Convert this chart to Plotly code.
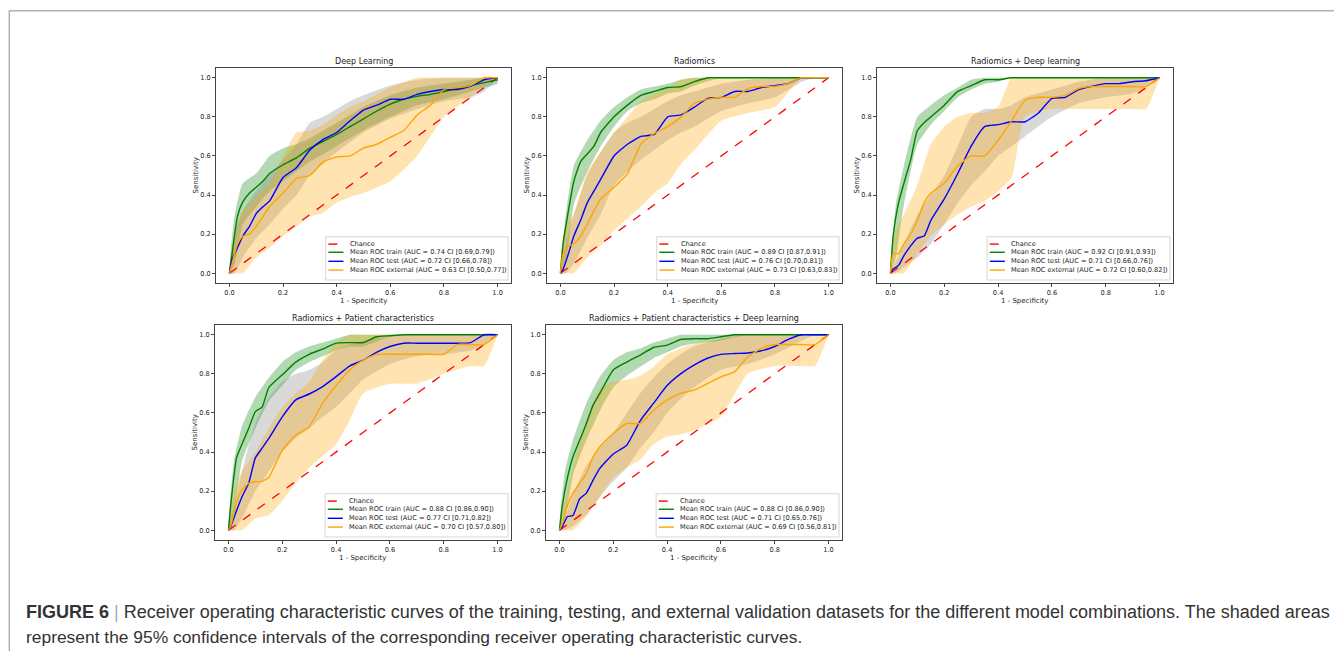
import plotly.graph_objects as go

# ---------------- data ----------------
MEAN_FPR = [0, 0.01, 0.03, 0.05, 0.075, 0.1, 0.125, 0.15, 0.2, 0.25, 0.3, 0.35, 0.4,
            0.45, 0.5, 0.55, 0.6, 0.65, 0.7, 0.75, 0.8, 0.85, 0.9, 0.95, 1.0]
BAND_FPR = [0, 0.02, 0.05, 0.1, 0.15, 0.2, 0.25, 0.3, 0.35, 0.4, 0.45, 0.5, 0.6, 0.7,
            0.8, 0.9, 0.95, 1.0]
CHANCE = [0.0, 1.0]

# Deep Learning
dl_train = [0, 0.1, 0.29, 0.365, 0.41, 0.44, 0.47, 0.51, 0.555, 0.59, 0.64, 0.675, 0.71,
            0.75, 0.79, 0.83, 0.865, 0.89, 0.905, 0.915, 0.93, 0.945, 0.96, 0.975, 0.99]
dl_train_hi = [0, 0.3, 0.46, 0.51, 0.6, 0.64, 0.66, 0.69, 0.73, 0.77, 0.81, 0.85, 0.91, 0.95,
               0.97, 0.99, 1.0, 1.0]
dl_train_lo = [0, 0.05, 0.25, 0.34, 0.42, 0.47, 0.52, 0.57, 0.61, 0.65, 0.69, 0.73, 0.8, 0.86,
               0.89, 0.93, 0.95, 0.97]
dl_test = [0, 0.07, 0.13, 0.19, 0.24, 0.305, 0.34, 0.37, 0.49, 0.54, 0.63, 0.685, 0.72,
           0.78, 0.835, 0.86, 0.89, 0.89, 0.915, 0.93, 0.94, 0.94, 0.957, 0.99, 1.0]
dl_test_hi = [0, 0.2, 0.32, 0.42, 0.5, 0.58, 0.66, 0.77, 0.8, 0.84, 0.88, 0.91, 0.96, 0.99,
              1.0, 1.0, 1.0, 1.0]
dl_test_lo = [0, 0.0, 0.08, 0.18, 0.25, 0.33, 0.4, 0.5, 0.56, 0.62, 0.67, 0.72, 0.79, 0.84,
              0.88, 0.9, 0.93, 1.0]
dl_ext = [0, 0.05, 0.15, 0.19, 0.2, 0.24, 0.29, 0.34, 0.41, 0.485, 0.5, 0.57, 0.595, 0.6,
          0.64, 0.66, 0.695, 0.73, 0.81, 0.86, 0.94, 0.95, 0.96, 1.0, 1.0]
dl_ext_hi = [0, 0.2, 0.32, 0.39, 0.46, 0.6, 0.72, 0.73, 0.76, 0.81, 0.85, 0.88, 0.95, 1.0,
             1.0, 1.0, 1.0, 1.0]
dl_ext_lo = [0, 0, 0, 0.08, 0.13, 0.19, 0.24, 0.29, 0.31, 0.36, 0.39, 0.41, 0.47, 0.6, 0.8,
             0.9, 0.96, 1.0]

# Radiomics
rad_train = [0, 0.15, 0.32, 0.47, 0.57, 0.61, 0.65, 0.72, 0.8, 0.86, 0.91, 0.93, 0.95, 0.955,
             0.98, 1, 1, 1, 1, 1, 1, 1, 1, 1, 1]
rad_train_hi = [0, 0.3, 0.55, 0.68, 0.78, 0.85, 0.9, 0.94, 0.955, 0.97, 0.99, 1, 1, 1, 1, 1, 1, 1]
rad_train_lo = [0, 0.05, 0.35, 0.52, 0.65, 0.75, 0.83, 0.87, 0.89, 0.92, 0.93, 0.96, 1, 1, 1,
                1, 1, 1]
rad_test = [0, 0.02, 0.1, 0.19, 0.27, 0.36, 0.42, 0.48, 0.6, 0.66, 0.7, 0.71, 0.8, 0.81,
            0.85, 0.895, 0.9, 0.93, 0.93, 0.95, 0.96, 0.97, 1, 1, 1]
rad_test_hi = [0, 0.15, 0.3, 0.5, 0.62, 0.72, 0.77, 0.8, 0.84, 0.88, 0.91, 0.93, 0.97, 0.99,
               1, 1, 1, 1]
rad_test_lo = [0, 0, 0.05, 0.18, 0.3, 0.45, 0.52, 0.58, 0.63, 0.68, 0.72, 0.75, 0.83, 0.87,
               0.9, 0.98, 1, 1]
rad_ext = [0, 0.1, 0.14, 0.15, 0.19, 0.25, 0.32, 0.38, 0.44, 0.51, 0.66, 0.715, 0.75, 0.8,
           0.87, 0.89, 0.9, 0.9, 0.945, 0.955, 0.955, 0.97, 1, 1, 1]
rad_ext_hi = [0, 0.25, 0.3, 0.52, 0.62, 0.72, 0.8, 0.88, 0.92, 0.95, 0.99, 1, 1, 1, 1, 1, 1, 1]
rad_ext_lo = [0, 0, 0, 0.08, 0.14, 0.22, 0.28, 0.34, 0.41, 0.46, 0.56, 0.63, 0.78, 0.82, 0.85,
              1.0, 1, 1]

# Radiomics + Deep learning
rdl_train = [0, 0.19, 0.36, 0.46, 0.58, 0.73, 0.77, 0.8, 0.86, 0.93, 0.96, 0.99, 0.99, 1, 1,
             1, 1, 1, 1, 1, 1, 1, 1, 1, 1]
rdl_train_hi = [0, 0.35, 0.55, 0.8, 0.86, 0.91, 0.95, 0.99, 1, 1, 1, 1, 1, 1, 1, 1, 1, 1]
rdl_train_lo = [0, 0.08, 0.35, 0.66, 0.76, 0.83, 0.9, 0.94, 0.97, 0.98, 1, 1, 1, 1, 1, 1, 1, 1]
rdl_test = [0, 0.02, 0.04, 0.09, 0.14, 0.18, 0.19, 0.27, 0.38, 0.51, 0.65, 0.75, 0.76, 0.775,
            0.775, 0.82, 0.895, 0.9, 0.94, 0.957, 0.97, 0.97, 0.98, 0.985, 1]
rdl_test_hi = [0, 0.06, 0.15, 0.3, 0.4, 0.5, 0.65, 0.8, 0.84, 0.84, 0.86, 0.9, 0.94, 0.98, 1,
               1, 1, 1]
rdl_test_lo = [0, 0, 0.03, 0.08, 0.15, 0.25, 0.36, 0.45, 0.52, 0.6, 0.65, 0.7, 0.8, 0.87,
               0.9, 0.92, 0.95, 1]
rdl_ext = [0, 0.1, 0.1, 0.15, 0.2, 0.27, 0.36, 0.41, 0.46, 0.55, 0.6, 0.6, 0.68, 0.78, 0.885,
           0.9, 0.9, 0.91, 0.945, 0.955, 0.955, 0.955, 0.955, 0.955, 1]
rdl_ext_hi = [0, 0.22, 0.3, 0.45, 0.66, 0.75, 0.8, 0.82, 0.82, 0.85, 1, 1, 1, 1, 1, 1, 1, 1]
rdl_ext_lo = [0, 0, 0, 0.1, 0.19, 0.25, 0.3, 0.34, 0.37, 0.42, 0.49, 0.8, 0.84, 0.84, 0.84,
              0.84, 0.84, 1]

# Radiomics + Patient characteristics
rpc_train = [0, 0.15, 0.37, 0.44, 0.52, 0.607, 0.63, 0.73, 0.795, 0.86, 0.9, 0.927, 0.957,
             0.96, 0.96, 0.99, 0.995, 1, 1, 1, 1, 1, 1, 1, 1]
rpc_train_hi = [0, 0.35, 0.53, 0.68, 0.78, 0.86, 0.91, 0.94, 0.96, 0.98, 1, 1, 1, 1, 1, 1, 1, 1]
rpc_train_lo = [0, 0.08, 0.35, 0.52, 0.66, 0.74, 0.82, 0.86, 0.89, 0.92, 0.94, 0.94, 0.99, 1,
                1, 1, 1, 1]
rpc_test = [0, 0.025, 0.1, 0.17, 0.24, 0.37, 0.42, 0.47, 0.58, 0.667, 0.697, 0.735, 0.786,
            0.84, 0.87, 0.91, 0.94, 0.957, 0.957, 0.957, 0.957, 0.957, 0.96, 1, 1]
rpc_test_hi = [0, 0.12, 0.3, 0.55, 0.68, 0.76, 0.8, 0.82, 0.86, 0.92, 0.95, 0.97, 0.99, 1, 1,
               1, 1, 1]
rpc_test_lo = [0, 0, 0.06, 0.2, 0.3, 0.4, 0.47, 0.52, 0.58, 0.63, 0.7, 0.77, 0.85, 0.89, 0.9,
               0.92, 0.95, 1]
rpc_ext = [0, 0.03, 0.14, 0.205, 0.24, 0.248, 0.25, 0.27, 0.41, 0.487, 0.53, 0.65, 0.74, 0.82,
           0.87, 0.9, 0.9, 0.9, 0.9, 0.9, 0.9, 0.95, 0.95, 0.95, 1]
rpc_ext_hi = [0, 0.2, 0.3, 0.4, 0.52, 0.63, 0.7, 0.76, 0.87, 0.96, 1, 1, 1, 1, 1, 1, 1, 1]
rpc_ext_lo = [0, 0, 0, 0.06, 0.077, 0.15, 0.24, 0.32, 0.38, 0.44, 0.56, 0.7, 0.75, 0.75, 0.8,
              0.84, 0.84, 1]

# Radiomics + Patient characteristics + Deep learning
rpd_train = [0, 0.12, 0.27, 0.375, 0.46, 0.546, 0.64, 0.7, 0.82, 0.86, 0.896, 0.935, 0.947,
             0.976, 0.98, 0.98, 0.99, 1, 1, 1, 1, 1, 1, 1, 1]
rpd_train_hi = [0, 0.3, 0.46, 0.65, 0.785, 0.87, 0.91, 0.93, 0.96, 0.98, 1, 1, 1, 1, 1, 1, 1, 1]
rpd_train_lo = [0, 0.05, 0.28, 0.46, 0.61, 0.73, 0.79, 0.836, 0.88, 0.91, 0.94, 0.955, 0.97,
                1, 1, 1, 1, 1]
rpd_test = [0, 0.017, 0.07, 0.075, 0.16, 0.19, 0.256, 0.316, 0.39, 0.435, 0.56, 0.65, 0.74,
            0.8, 0.845, 0.88, 0.9, 0.904, 0.907, 0.918, 0.94, 0.976, 1, 1, 1]
rpd_test_hi = [0, 0.06, 0.18, 0.33, 0.42, 0.5, 0.6, 0.7, 0.78, 0.85, 0.9, 0.94, 0.98, 1, 1, 1,
               1, 1]
rpd_test_lo = [0, 0, 0.02, 0.08, 0.17, 0.25, 0.32, 0.42, 0.5, 0.6, 0.67, 0.73, 0.82, 0.85,
               0.9, 0.97, 1, 1]
rpd_ext = [0, 0.034, 0.128, 0.19, 0.24, 0.29, 0.375, 0.427, 0.495, 0.546, 0.546, 0.614, 0.666,
           0.7, 0.717, 0.75, 0.785, 0.81, 0.887, 0.93, 0.95, 0.95, 0.95, 0.95, 1]
rpd_ext_hi = [0, 0.15, 0.32, 0.56, 0.725, 0.76, 0.768, 0.79, 0.836, 0.9, 0.93, 0.955, 0.98, 1,
              1, 1, 1, 1]
rpd_ext_lo = [0, 0, 0, 0.07, 0.17, 0.27, 0.32, 0.36, 0.44, 0.48, 0.49, 0.51, 0.58, 0.8, 0.84,
              0.84, 0.84, 1]

TITLES = ["Deep Learning", "Radiomics", "Radiomics + Deep learning",
          "Radiomics + Patient characteristics",
          "Radiomics + Patient characteristics + Deep learning"]
TRAIN_LABELS = ["Mean ROC train (AUC = 0.74 CI [0.69,0.79])",
                "Mean ROC train (AUC = 0.89 CI [0.87,0.91])",
                "Mean ROC train (AUC = 0.92 CI [0.91,0.93])",
                "Mean ROC train (AUC = 0.88 CI [0.86,0.90])",
                "Mean ROC train (AUC = 0.88 CI [0.86,0.90])"]
TEST_LABELS = ["Mean ROC test (AUC = 0.72 CI [0.66,0.78])",
               "Mean ROC test (AUC = 0.76 CI [0.70,0.81])",
               "Mean ROC test (AUC = 0.71 CI [0.66,0.76])",
               "Mean ROC test (AUC = 0.77 CI [0.71,0.82])",
               "Mean ROC test (AUC = 0.71 CI [0.65,0.76])"]
EXT_LABELS = ["Mean ROC external (AUC = 0.63 CI [0.50,0.77])",
              "Mean ROC external (AUC = 0.73 CI [0.63,0.83])",
              "Mean ROC external (AUC = 0.72 CI [0.60,0.82])",
              "Mean ROC external (AUC = 0.70 CI [0.57,0.80])",
              "Mean ROC external (AUC = 0.69 CI [0.56,0.81])"]
TICK_VALUES = [0.0, 0.2, 0.4, 0.6, 0.8, 1.0]
TICK_TEXT = ["0.0", "0.2", "0.4", "0.6", "0.8", "1.0"]

CAPTION_1 = ("<b>FIGURE 6</b> <span style='color:#aaa'>|</span> Receiver operating characteristic "
             "curves of the training, testing, and external validation datasets for the different "
             "model combinations. The shaded areas")
CAPTION_2 = ("represent the 95% confidence intervals of the corresponding receiver operating "
             "characteristic curves.")

# ---------------- styling ----------------
W, H = 1342, 651
OFF = 8  # page body margin of the html page
GREEN, BLUE, ORANGE, RED = "#008000", "#0000ff", "#ffa500", "#ff0000"
FILLS = {"train": "rgba(0,128,0,0.3)", "test": "rgba(128,128,128,0.3)",
         "ext": "rgba(255,165,0,0.3)"}
MPL_FONT = "DejaVu Sans"
TXT = "#222222"

PX_X = [(216, 511), (547, 842), (877, 1173), (215, 511), (546, 842)]
PX_Y = [(68, 283), (68, 283), (68, 283), (325, 540), (325, 540)]


def fx(px):
    return (px - OFF) / W


def fy(py):
    return 1 - (py - OFF) / H


panels = [
    dict(train=dl_train, train_hi=dl_train_hi, train_lo=dl_train_lo,
         test=dl_test, test_hi=dl_test_hi, test_lo=dl_test_lo,
         ext=dl_ext, ext_hi=dl_ext_hi, ext_lo=dl_ext_lo),
    dict(train=rad_train, train_hi=rad_train_hi, train_lo=rad_train_lo,
         test=rad_test, test_hi=rad_test_hi, test_lo=rad_test_lo,
         ext=rad_ext, ext_hi=rad_ext_hi, ext_lo=rad_ext_lo),
    dict(train=rdl_train, train_hi=rdl_train_hi, train_lo=rdl_train_lo,
         test=rdl_test, test_hi=rdl_test_hi, test_lo=rdl_test_lo,
         ext=rdl_ext, ext_hi=rdl_ext_hi, ext_lo=rdl_ext_lo),
    dict(train=rpc_train, train_hi=rpc_train_hi, train_lo=rpc_train_lo,
         test=rpc_test, test_hi=rpc_test_hi, test_lo=rpc_test_lo,
         ext=rpc_ext, ext_hi=rpc_ext_hi, ext_lo=rpc_ext_lo),
    dict(train=rpd_train, train_hi=rpd_train_hi, train_lo=rpd_train_lo,
         test=rpd_test, test_hi=rpd_test_hi, test_lo=rpd_test_lo,
         ext=rpd_ext, ext_hi=rpd_ext_hi, ext_lo=rpd_ext_lo),
]

fig = go.Figure()
layout = {}
shapes = []
annotations = []

for i, p in enumerate(panels):
    n = i + 1
    sx = "" if n == 1 else str(n)
    xa, ya = "x" + sx, "y" + sx
    # bands
    for key in ["train", "test", "ext"]:
        xs = BAND_FPR + BAND_FPR[::-1]
        ys = p[key + "_hi"] + p[key + "_lo"][::-1]
        fig.add_trace(go.Scatter(x=xs, y=ys, fill="toself", fillcolor=FILLS[key],
                                 line=dict(width=0, shape="spline", smoothing=0.5),
                                 mode="lines", hoverinfo="skip", showlegend=False,
                                 xaxis=xa, yaxis=ya))
    # chance
    fig.add_trace(go.Scatter(x=CHANCE, y=CHANCE, mode="lines",
                             line=dict(color=RED, width=1.3, dash="dash"),
                             showlegend=False, xaxis=xa, yaxis=ya))
    for key, col in [("train", GREEN), ("test", BLUE), ("ext", ORANGE)]:
        fig.add_trace(go.Scatter(x=MEAN_FPR, y=p[key], mode="lines",
                                 line=dict(color=col, width=1.4, shape="spline",
                                           smoothing=0.5),
                                 showlegend=False, xaxis=xa, yaxis=ya))

    x0, x1 = PX_X[i]
    y0, y1 = PX_Y[i]
    axis_common = dict(range=[-0.05, 1.05], showgrid=False, zeroline=False,
                       showline=True, mirror=True, linecolor="#444", linewidth=0.9,
                       ticks="outside", ticklen=3, tickwidth=0.8, tickcolor="#444",
                       tickvals=TICK_VALUES, ticktext=TICK_TEXT,
                       tickfont=dict(family=MPL_FONT, size=6.6, color=TXT))
    layout["xaxis" + sx] = dict(domain=[fx(x0), fx(x1)], anchor=ya, **axis_common)
    layout["yaxis" + sx] = dict(domain=[fy(y1), fy(y0)], anchor=xa, **axis_common)

    xd, yd = xa + " domain", ya + " domain"
    # title and axis labels
    annotations.append(dict(text=TITLES[i], x=0.5, y=1, xref=xd, yref=yd, showarrow=False,
                            xanchor="center", yanchor="bottom", yshift=0,
                            font=dict(family=MPL_FONT, size=8, color=TXT)))
    annotations.append(dict(text="1 - Specificity", x=0.5, y=0, xref=xd, yref=yd,
                            showarrow=False, xanchor="center", yanchor="middle", yshift=-17.5,
                            font=dict(family=MPL_FONT, size=7, color=TXT)))
    annotations.append(dict(text="Sensitivity", x=0, y=0.5, xref=xd, yref=yd,
                            showarrow=False, xanchor="center", yanchor="middle", xshift=-21,
                            textangle=-90, font=dict(family=MPL_FONT, size=7, color=TXT)))
    # legend (drawn manually: matplotlib-like compact legend)
    shapes.append(dict(type="rect", xref=xd, yref=yd, x0=0.372, x1=0.99, y0=0.014, y1=0.215,
                       line=dict(color="#cccccc", width=0.8),
                       fillcolor="rgba(255,255,255,0.8)", layer="above"))
    entries = [("Chance", RED, "dash", 0.181), (TRAIN_LABELS[i], GREEN, "solid", 0.143),
               (TEST_LABELS[i], BLUE, "solid", 0.101), (EXT_LABELS[i], ORANGE, "solid", 0.06)]
    for label, col, dash, yy in entries:
        shapes.append(dict(type="line", xref=xd, yref=yd, x0=0.381, x1=0.432, y0=yy, y1=yy,
                           line=dict(color=col, width=1.4, dash=dash), layer="above"))
        annotations.append(dict(text=label, x=0.446, y=yy, xref=xd, yref=yd, showarrow=False,
                                xanchor="left", yanchor="middle",
                                font=dict(family=MPL_FONT, size=6.6, color=TXT)))

# page frame lines
shapes.append(dict(type="line", xref="paper", yref="paper", x0=fx(9.3), x1=1.0,
                   y0=fy(10.7), y1=fy(10.7), line=dict(color="#b0b0b0", width=1.5)))
shapes.append(dict(type="line", xref="paper", yref="paper", x0=fx(9.3), x1=fx(9.3),
                   y0=0, y1=fy(10.7), line=dict(color="#b0b0b0", width=1.5)))

# caption
annotations.append(dict(text=CAPTION_1, x=fx(24), y=fy(611.5), xref="paper", yref="paper",
                        showarrow=False, xanchor="left", yanchor="middle",
                        font=dict(family="Liberation Sans, Arial", size=18, color="#333333")))
annotations.append(dict(text=CAPTION_2, x=fx(24), y=fy(637), xref="paper", yref="paper",
                        showarrow=False, xanchor="left", yanchor="middle",
                        font=dict(family="Liberation Sans, Arial", size=17.4, color="#333333")))

fig.update_layout(width=W, height=H, margin=dict(l=0, r=0, t=0, b=0),
                  paper_bgcolor="white", plot_bgcolor="white", showlegend=False,
                  shapes=shapes, annotations=annotations, **layout)

fig.write_html("out.html")
